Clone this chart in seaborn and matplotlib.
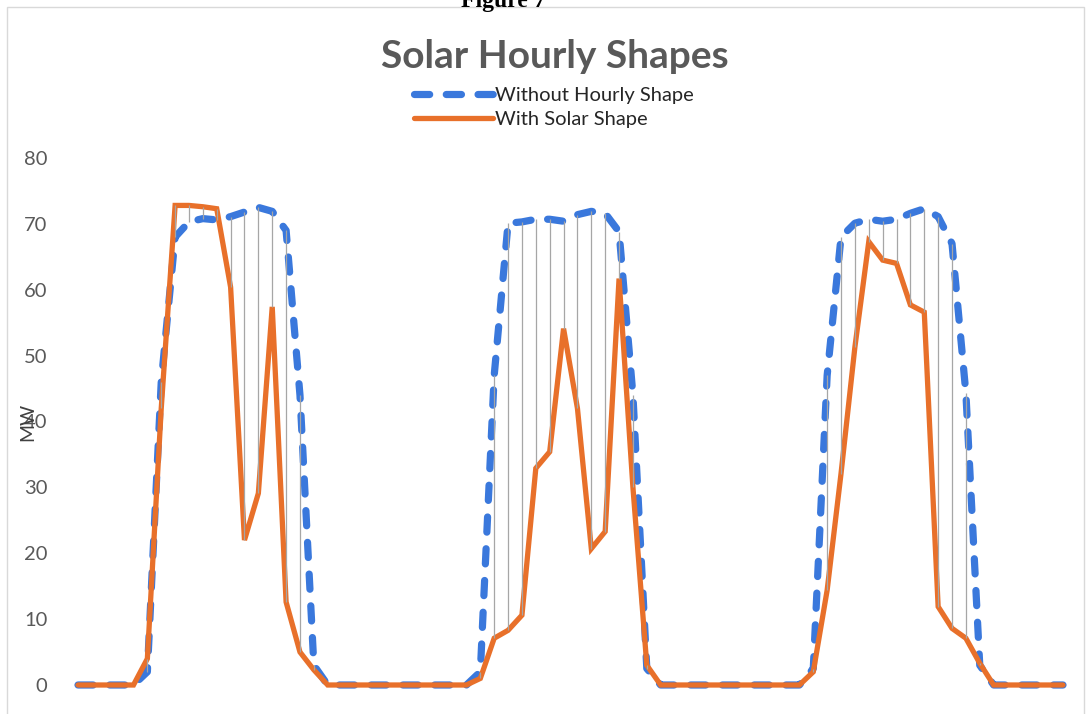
import matplotlib
matplotlib.use("Agg")
import matplotlib.pyplot as plt
import seaborn as sns
import numpy as np
from matplotlib.patches import Rectangle

# hourly values for three days (MW)
hours = list(range(72))
without_shape = [0, 0, 0, 0, 0,
                 2, 46, 68, 70.3, 70.8, 70.6, 71.1, 71.8, 72.5, 71.9, 69, 44, 3,
                 0, 0, 0, 0, 0, 0, 0, 0, 0, 0, 0,
                 2, 47, 70.1, 70.3, 70.7, 70.7, 70.4, 71.4, 71.9, 71.6, 68.8, 44, 2.5,
                 0, 0, 0, 0, 0, 0, 0, 0, 0, 0, 0,
                 2.5, 47, 68, 70.1, 70.7, 70.4, 70.7, 71.6, 72.3, 71.1, 67, 44.3, 3,
                 0, 0, 0, 0, 0, 0]
with_solar = [0, 0, 0, 0, 0,
              4, 42, 72.8, 72.8, 72.6, 72.3, 60.4, 22, 29.1, 57.4, 12.6, 5, 2.3,
              0, 0, 0, 0, 0, 0, 0, 0, 0, 0, 0,
              1, 7.1, 8.3, 10.6, 32.9, 35.4, 54.1, 42, 20.7, 23.3, 61.7, 30, 3,
              0, 0, 0, 0, 0, 0, 0, 0, 0, 0, 0,
              2, 14.4, 32.1, 51.3, 67.3, 64.5, 64, 57.7, 56.6, 11.9, 8.6, 7.1, 3.3,
              0, 0, 0, 0, 0, 0]
y_ticks = [0, 10, 20, 30, 40, 50, 60, 70, 80]

sns.set_style("white")
plt.rcParams['font.family'] = ['Lato', 'DejaVu Sans']

fig = plt.figure(figsize=(10.89, 7.14), dpi=100)
ax = fig.add_axes([78 / 1089, 29 / 714, 985 / 1089, 527 / 714])

# high-low lines between the two series
lo = np.minimum(without_shape, with_solar)
hi = np.maximum(without_shape, with_solar)
ax.vlines(hours, lo, hi, color='#a6a6a6', lw=0.9, zorder=4)

sns.lineplot(x=hours, y=without_shape, ax=ax, color='#3a78dc', lw=5.2,
             linestyle=(0, (2.1, 2.3)), dash_capstyle='round',
             label='Without Hourly Shape', zorder=2)
sns.lineplot(x=hours, y=with_solar, ax=ax, color='#e8702a', lw=3.8,
             solid_joinstyle='miter', label='With Solar Shape', zorder=3)
for ln in ax.lines:
    ln.set_clip_on(False)

ax.set_xlim(0, 71)
ax.set_ylim(0, 80)
ax.set_yticks(y_ticks)
ax.set_xticks([])
ax.tick_params(axis='y', length=0, pad=22, labelsize=14.5, labelcolor='#595959')
for s in ax.spines.values():
    s.set_visible(False)
ax.set_xlabel('')
ax.set_ylabel('')

ax.legend_.remove()
handles, labels = ax.get_legend_handles_labels()
fig.legend(handles, labels, loc='upper left', bbox_to_anchor=(414 / 1089, 1 - 87 / 714),
           frameon=False, fontsize=14.5, handlelength=3.9, handletextpad=0.12,
           labelspacing=0.32, borderpad=0, borderaxespad=0)

fig.text(555 / 1089, 1 - 57 / 714, 'Solar Hourly Shapes', ha='center', va='center',
         fontsize=28, fontweight='bold', color='#595959')
fig.text(28 / 1089, 1 - 422 / 714, 'MW', rotation=90, ha='center', va='center',
         fontsize=14, color='#404040')
fig.text(503 / 1089, 1 - 2 / 714, 'Figure 7', ha='center', va='center',
         fontsize=17, fontweight='bold', family='Liberation Serif', color='black')

fig.patches.append(Rectangle((7 / 1089, -0.01), 1077 / 1089, 1 - 7 / 714 + 0.01,
                             transform=fig.transFigure, fill=False,
                             edgecolor='#d9d9d9', lw=1))

fig.savefig('out.png', dpi=100)
